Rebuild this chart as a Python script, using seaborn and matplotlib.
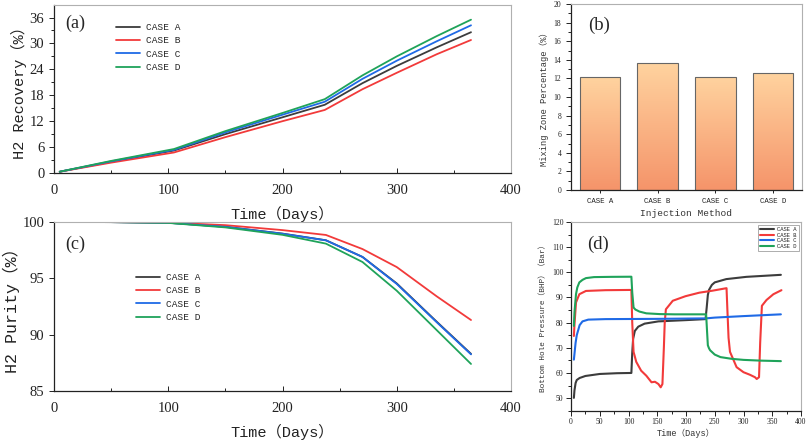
import numpy as np
import pandas as pd
import matplotlib
matplotlib.use("Agg")
import matplotlib.pyplot as plt
import seaborn as sns
from matplotlib.ticker import MultipleLocator
from matplotlib.colors import LinearSegmentedColormap

# ---------------- data ----------------
cases = ["CASE A", "CASE B", "CASE C", "CASE D"]
case_colors = ["#3c3c3c", "#f23a3a", "#1f6ae6", "#1fa35a"]

# (a) H2 recovery (%)
rec_days = [5, 50, 105, 150, 200, 237, 270, 300, 335, 365]
rec_a = [0.3, 2.6, 5.2, 9.0, 12.9, 15.8, 20.8, 24.8, 29.1, 32.6]
rec_b = [0.3, 2.4, 4.75, 8.3, 12.0, 14.6, 19.4, 23.2, 27.5, 30.8]
rec_c = [0.3, 2.7, 5.35, 9.4, 13.5, 16.5, 21.8, 26.0, 30.5, 34.2]
rec_d = [0.3, 2.8, 5.55, 9.7, 13.9, 17.1, 22.6, 27.0, 31.7, 35.5]

# (b) mixing zone percentage (%)
mix_vals = [12.1, 13.65, 12.2, 12.55]

# (c) H2 purity (%)
pur_days = [5, 50, 100, 150, 200, 238, 270, 300, 335, 365]
pur_a = [100, 99.99, 99.93, 99.58, 98.97, 98.38, 96.9, 94.55, 91.15, 88.3]
pur_b = [100, 99.99, 99.95, 99.72, 99.28, 98.85, 97.6, 96.0, 93.4, 91.3]
pur_c = [100, 99.99, 99.93, 99.57, 98.96, 98.37, 96.9, 94.5, 91.1, 88.25]
pur_d = [100, 99.99, 99.92, 99.52, 98.86, 98.08, 96.45, 93.9, 90.4, 87.4]

# (d) bottom hole pressure (Bar)
bhp_a_days = [5, 6, 8, 10, 15, 25, 50, 80, 105, 106.5, 108, 111, 117, 128, 152, 200, 234,
              236, 238, 240, 245, 250, 270, 305, 335, 365]
bhp_a = [50.1, 53, 56, 57.2, 58, 58.8, 59.6, 59.9, 60, 68, 73.5, 76.7, 78.4, 79.6, 80.5, 81, 81.4,
         86, 91, 93, 95, 96, 97.3, 98.2, 98.6, 99]
bhp_b_days = [5, 6, 8.7, 14.5, 26, 60, 105, 106.5, 108.8, 113.5, 122, 131, 140, 146, 152, 156, 159,
              161.5, 163, 165, 177, 199, 223, 246, 270.5, 272, 274, 276.5, 288, 300, 311, 320, 323,
              327, 329, 332, 340, 352, 366]
bhp_b = [74.7, 79, 88, 91.3, 92.6, 92.9, 93, 80, 68.4, 64.4, 60.9, 58.9, 56.3, 56.5, 55.6, 54.3, 55.6,
         70, 80, 85.3, 88.7, 90.5, 91.9, 92.7, 93.7, 85, 74, 68.4, 62.3, 60.3, 59.3, 58.3, 57.6,
         58.3, 72, 86.7, 89, 91.3, 92.9]
bhp_c_days = [5, 8, 10, 15, 20, 30, 60, 150, 235, 250, 300, 365]
bhp_c = [65.3, 72, 75, 79, 80.5, 81.2, 81.4, 81.5, 81.7, 82.0, 82.6, 83.3]
bhp_d_days = [5, 6, 8.7, 11, 14.5, 20, 26, 40, 70, 105, 106.5, 108.8, 112, 119, 131, 154, 180, 235,
              236.5, 238, 240, 242, 250, 260, 280, 300, 330, 365]
bhp_d = [78.7, 84, 91.3, 94, 96, 97, 97.7, 98.1, 98.2, 98.25, 92, 86, 85.2, 84.4, 83.7, 83.4, 83.3, 83.3,
         77, 71, 69.8, 69, 67.3, 66.3, 65.6, 65.2, 64.9, 64.7]

# ---------------- style ----------------
sns.set_style("ticks")
plt.rcParams["font.family"] = ["Liberation Serif", "Noto Sans CJK SC", "DejaVu Sans"]
LAB = ["Liberation Mono", "Noto Sans CJK SC", "DejaVu Sans"]
NUM = ["Liberation Serif", "DejaVu Serif"]

palette = dict(zip(cases, case_colors))


def long_df(day_lists, val_lists):
    frames = []
    for c, d, v in zip(cases, day_lists, val_lists):
        frames.append(pd.DataFrame({"Day": d, "Value": v, "Case": c}))
    return pd.concat(frames, ignore_index=True)


def style_axes(ax, tick_fs, xin=True):
    for s in ["left", "bottom"]:
        ax.spines[s].set_color("#222222")
        ax.spines[s].set_linewidth(0.9)
    for s in ["top", "right"]:
        ax.spines[s].set_visible(True)
        ax.spines[s].set_color("#b0b0b0")
        ax.spines[s].set_linewidth(0.8)
    ax.tick_params(axis="x", which="both", direction="in" if xin else "out",
                   labelsize=tick_fs, colors="#222222", width=0.7)
    ax.tick_params(axis="y", which="both", direction="out",
                   labelsize=tick_fs, colors="#222222", width=0.7)
    ax.tick_params(which="major", length=3.5)
    ax.tick_params(which="minor", length=2)
    for lab in ax.get_xticklabels() + ax.get_yticklabels():
        lab.set_family(NUM)


fig = plt.figure(figsize=(8.09, 4.43), dpi=100)
W, H = 809, 443


def add_ax(l, r, t, b):
    return fig.add_axes([l / W, 1 - b / H, (r - l) / W, (b - t) / H])


ax_a = add_ax(54, 511, 5, 173)
ax_c = add_ax(54, 511, 222, 391)
ax_b = add_ax(571, 802, 4, 190)
ax_d = add_ax(571, 801, 222, 410.7)

# ---------------- (a) ----------------
df_a = long_df([rec_days] * 4, [rec_a, rec_b, rec_c, rec_d])
sns.lineplot(data=df_a, x="Day", y="Value", hue="Case", hue_order=cases, palette=palette,
             estimator=None, sort=False, lw=1.3, ax=ax_a, legend=False)
ax_a.set_xlim(0, 400)
ax_a.set_ylim(0, 38.9)
ax_a.xaxis.set_major_locator(MultipleLocator(100))
ax_a.xaxis.set_minor_locator(MultipleLocator(50))
ax_a.yaxis.set_major_locator(MultipleLocator(6))
ax_a.yaxis.set_minor_locator(MultipleLocator(3))
style_axes(ax_a, 10.5)
ax_a.tick_params(axis="x", pad=8)
ax_a.set_xlabel("Time（Days）", family=LAB, fontsize=11, labelpad=6, color="#222222")
ax_a.set_ylabel("H2 Recovery（%）", family=LAB, fontsize=11, labelpad=2, color="#222222")
ax_a.text(0.024, 0.89, "(a)", transform=ax_a.transAxes, fontsize=13, family=NUM, va="center")
ax_a.legend(ax_a.get_lines(), cases, loc="upper left", bbox_to_anchor=(0.128, 0.915),
            frameon=False, prop={"family": LAB, "size": 6.8}, handlelength=2.5,
            handletextpad=0.6, labelspacing=0.45, borderaxespad=0)

# ---------------- (c) ----------------
df_c = long_df([pur_days] * 4, [pur_a, pur_b, pur_c, pur_d])
sns.lineplot(data=df_c, x="Day", y="Value", hue="Case", hue_order=cases, palette=palette,
             estimator=None, sort=False, lw=1.3, ax=ax_c, legend=False)
ax_c.set_xlim(0, 400)
ax_c.set_ylim(85, 100)
ax_c.xaxis.set_major_locator(MultipleLocator(100))
ax_c.xaxis.set_minor_locator(MultipleLocator(50))
ax_c.yaxis.set_major_locator(MultipleLocator(5))
style_axes(ax_c, 10.5)
ax_c.tick_params(axis="x", pad=8)
ax_c.set_xlabel("Time（Days）", family=LAB, fontsize=11, labelpad=6, color="#222222")
ax_c.set_ylabel("H2 Purity（%）", family=LAB, fontsize=12, labelpad=2, color="#222222")
ax_c.text(0.024, 0.87, "(c)", transform=ax_c.transAxes, fontsize=13, family=NUM, va="center")
ax_c.legend(ax_c.get_lines(), cases, loc="upper left", bbox_to_anchor=(0.172, 0.72),
            frameon=False, prop={"family": LAB, "size": 6.8}, handlelength=2.5,
            handletextpad=0.6, labelspacing=0.45, borderaxespad=0)

# ---------------- (b) ----------------
df_b = pd.DataFrame({"Case": cases, "Mix": mix_vals})
sns.barplot(data=df_b, x="Case", y="Mix", order=cases, color="#ffc896", width=0.7,
            edgecolor="#666666", linewidth=0.8, ax=ax_b)
ax_b.set_xlim(-0.5, 3.5)
ax_b.set_ylim(0, 20)
cmap = LinearSegmentedColormap.from_list("og", ["#f5946a", "#ffd39f"])
grad = np.linspace(0, 1, 256).reshape(-1, 1)
for p in ax_b.patches:
    x0, y0 = p.get_x(), p.get_y()
    w, h = p.get_width(), p.get_height()
    im = ax_b.imshow(grad, cmap=cmap, origin="lower", aspect="auto",
                     extent=[x0, x0 + w, y0, y0 + h], zorder=p.get_zorder() - 0.1)
    im.set_clip_path(p)
    p.set_facecolor("none")
ax_b.set_xlim(-0.5, 3.5)
ax_b.set_ylim(0, 20)
ax_b.yaxis.set_major_locator(MultipleLocator(2))
ax_b.yaxis.set_minor_locator(MultipleLocator(1))
style_axes(ax_b, 5.5, xin=False)
ax_b.tick_params(axis="x", which="both", length=2.5, pad=3)
for lab in ax_b.get_xticklabels():
    lab.set_family(LAB)
    lab.set_fontsize(5.3)
ax_b.set_xlabel("Injection Method", family=LAB, fontsize=6.8, labelpad=3, color="#333333")
ax_b.set_ylabel("Mixing Zone Percentage（%）", family=LAB, fontsize=6.3, labelpad=3,
                color="#333333")
ax_b.text(0.074, 0.887, "(b)", transform=ax_b.transAxes, fontsize=13.5, family=NUM,
          va="center")

# ---------------- (d) ----------------
df_d = long_df([bhp_a_days, bhp_b_days, bhp_c_days, bhp_d_days], [bhp_a, bhp_b, bhp_c, bhp_d])
sns.lineplot(data=df_d, x="Day", y="Value", hue="Case", hue_order=cases, palette=palette,
             estimator=None, sort=False, lw=1.5, ax=ax_d, legend=False)
ax_d.set_xlim(0, 400)
ax_d.set_ylim(45, 120)
ax_d.xaxis.set_major_locator(MultipleLocator(50))
ax_d.xaxis.set_minor_locator(MultipleLocator(25))
ax_d.yaxis.set_major_locator(MultipleLocator(10))
ax_d.yaxis.set_minor_locator(MultipleLocator(5))
style_axes(ax_d, 5.5, xin=False)
ax_d.tick_params(which="both", pad=2)
ax_d.set_xlabel("Time（Days）", family=LAB, fontsize=6.2, labelpad=2, color="#333333")
ax_d.set_ylabel("Bottom Hole Pressure（BHP）（Bar）", family=LAB, fontsize=5.6, labelpad=3,
                color="#333333")
ax_d.text(0.072, 0.883, "(d)", transform=ax_d.transAxes, fontsize=13.5, family=NUM,
          va="center")
leg = ax_d.legend(ax_d.get_lines(), cases, loc="upper right", bbox_to_anchor=(0.99, 0.985),
                  frameon=True, fancybox=False, prop={"family": LAB, "size": 4},
                  handlelength=2.6, handletextpad=0.5, labelspacing=0.15,
                  borderpad=0.35, borderaxespad=0)
leg.get_frame().set_edgecolor("#888888")
leg.get_frame().set_linewidth(0.6)

fig.savefig("out.png", dpi=100)
